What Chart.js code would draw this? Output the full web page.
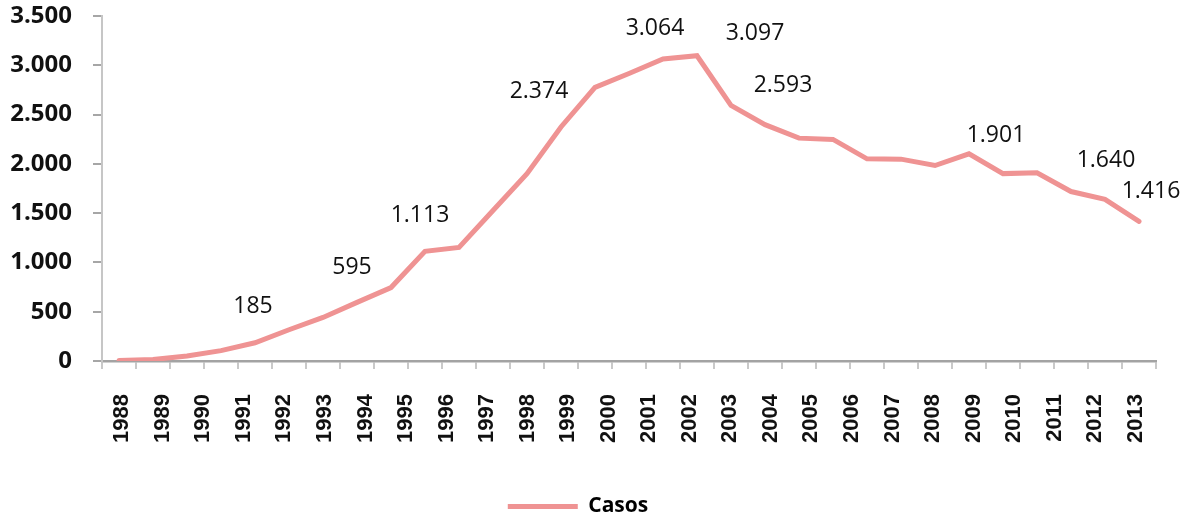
<!DOCTYPE html>
<html>
<head>
<meta charset="utf-8">
<script src="https://cdn.jsdelivr.net/npm/chart.js@4"></script>
<style>
  html, body { margin: 0; padding: 0; background: #fff; }
  #wrap { width: 1190px; height: 517px; }
</style>
</head>
<body>
<div id="wrap"><canvas id="chart"></canvas></div>
<script>
// year labels printed under the axis
const years = ['1988', '1989', '1990', '1991', '1992', '1993', '1994', '1995', '1996',
  '1997', '1998', '1999', '2000', '2001', '2002', '2003', '2004', '2005', '2006',
  '2007', '2008', '2009', '2010', '2011', '2012', '2013'];

// the line itself (31 points on the ticked axis)
const casos = [5, 15, 50, 105, 185, 317, 442, 595, 745, 1113, 1152, 1527, 1900, 2374,
  2776, 2917, 3064, 3097, 2593, 2398, 2261, 2248, 2051, 2048, 1983, 2102, 1901, 1910,
  1719, 1640, 1416];

// points that carry a value label
const labelled = [4, 7, 9, 13, 16, 17, 18, 26, 29, 30];

const yTicks = [0, 500, 1000, 1500, 2000, 2500, 3000, 3500];

const fmt = (v) => String(v).replace(/\B(?=(\d{3})+(?!\d))/g, '.');

const valueLabels = {
  id: 'valueLabels',
  afterDatasetsDraw(chart, args, opts) {
    const meta = chart.getDatasetMeta(0);
    const ctx = chart.ctx;
    ctx.save();
    ctx.font = opts.font;
    ctx.fillStyle = opts.color;
    ctx.textAlign = 'center';
    ctx.textBaseline = 'middle';
    labelled.forEach((i) => {
      const p = meta.data[i];
      const off = opts.offsets[i] || [0, -36];
      ctx.fillText(fmt(casos[i]), p.x + off[0], p.y + off[1]);
    });
    ctx.restore();
  }
};

const lineColor = '#ef9393';

new Chart(document.querySelector('#chart'), {
  type: 'line',
  data: {
    labels: casos.map(() => ''),
    datasets: [{
      label: 'Casos',
      data: casos,
      borderColor: lineColor,
      backgroundColor: lineColor,
      borderWidth: 5,
      borderCapStyle: 'round',
      borderJoinStyle: 'miter',
      pointRadius: 0,
      tension: 0,
      fill: false
    }]
  },
  options: {
    responsive: true,
    maintainAspectRatio: false,
    animation: false,
    layout: { padding: { top: 16, right: 34, left: 0, bottom: -10 } },
    scales: {
      x: {
        offset: true,
        grid: { offset: true, drawOnChartArea: false, drawTicks: true, tickLength: 8, tickColor: '#c9c9c9', lineWidth: 2 },
        border: { color: '#a3a3a3', width: 2.5 },
        ticks: { display: false }
      },
      x2: {
        type: 'category',
        position: 'bottom',
        labels: years,
        offset: true,
        grid: { display: false },
        border: { display: false },
        ticks: {
          autoSkip: false, minRotation: 90, maxRotation: 90, padding: 17,
          color: '#111',
          font: { family: '"Liberation Sans", Arial, sans-serif', size: 22, weight: 'bold' }
        },
        afterFit: (s) => { s.height = 117; }
      },
      y: {
        min: 0,
        max: 3500,
        afterBuildTicks: (s) => { s.ticks = yTicks.map((v) => ({ value: v })); },
        grid: { drawOnChartArea: false, drawTicks: true, tickLength: 9, tickColor: '#a6a6a6', lineWidth: 2 },
        border: { color: '#c6c6c6', width: 2 },
        ticks: {
          padding: 21,
          color: '#111',
          font: { family: '"Open Sans", sans-serif', size: 24, weight: 'bold' },
          callback: (v) => fmt(v)
        },
        afterFit: (s) => { s.width = 102; s.paddingTop = 0; s.paddingBottom = 0; }
      }
    },
    plugins: {
      legend: {
        position: 'bottom',
        labels: {
          usePointStyle: true,
          pointStyle: 'line',
          pointStyleWidth: 70,
          color: '#000',
          padding: 10,
          font: { family: '"Open Sans", sans-serif', size: 21, weight: 'bold' }
        }
      },
      tooltip: { enabled: false },
      valueLabels: {
        font: '23px "Open Sans", sans-serif',
        color: '#111',
        offsets: {
          4: [-2, -36], 7: [-5, -35], 9: [-5, -36], 13: [-22, -36], 16: [-8, -31],
          17: [58, -22], 18: [52, -20], 26: [-7, -38], 29: [1, -39], 30: [12, -30]
        }
      }
    }
  },
  plugins: [valueLabels]
});
</script>
</body>
</html>
